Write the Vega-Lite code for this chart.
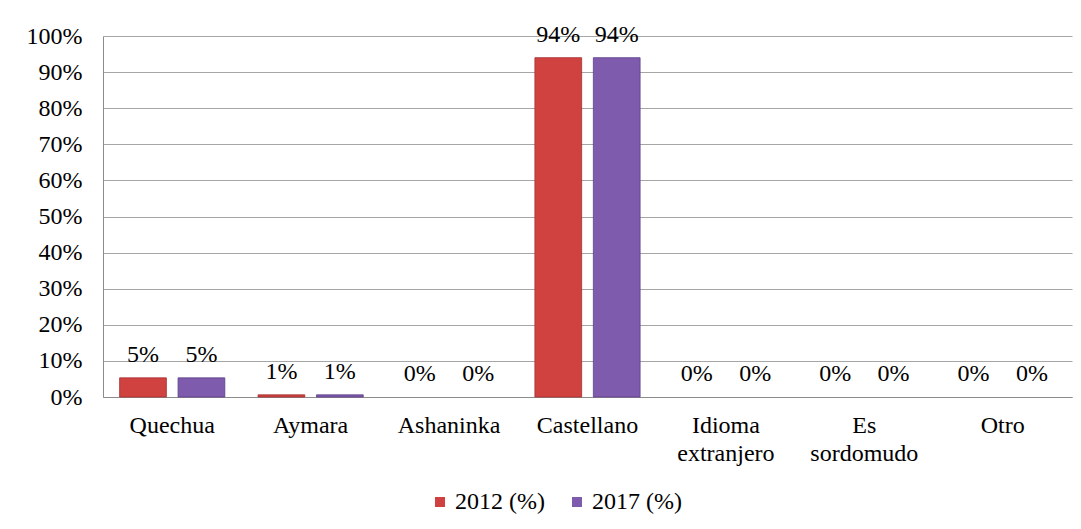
{
  "$schema": "https://vega.github.io/schema/vega-lite/v6.json",
  "autosize": "none",
  "width": 969,
  "height": 361,
  "padding": {"left": 103, "top": 36, "right": 9, "bottom": 132},
  "background": "white",
  "config": {
    "font": "Liberation Serif",
    "view": {"stroke": null},
    "axis": {"labelFont": "Liberation Serif", "labelFontSize": 24, "labelColor": "black", "ticks": false, "domainColor": "#8c8c8c", "gridColor": "#a6a6a6", "title": null}
  },
  "data": {
    "values": [
      {"idioma": "Quechua", "serie": "2012 (%)", "valor": 0.053},
      {"idioma": "Quechua", "serie": "2017 (%)", "valor": 0.053},
      {"idioma": "Aymara", "serie": "2012 (%)", "valor": 0.006},
      {"idioma": "Aymara", "serie": "2017 (%)", "valor": 0.006},
      {"idioma": "Ashaninka", "serie": "2012 (%)", "valor": 0.0},
      {"idioma": "Ashaninka", "serie": "2017 (%)", "valor": 0.0},
      {"idioma": "Castellano", "serie": "2012 (%)", "valor": 0.94},
      {"idioma": "Castellano", "serie": "2017 (%)", "valor": 0.94},
      {"idioma": "Idioma extranjero", "serie": "2012 (%)", "valor": 0.0},
      {"idioma": "Idioma extranjero", "serie": "2017 (%)", "valor": 0.0},
      {"idioma": "Es sordomudo", "serie": "2012 (%)", "valor": 0.0},
      {"idioma": "Es sordomudo", "serie": "2017 (%)", "valor": 0.0},
      {"idioma": "Otro", "serie": "2012 (%)", "valor": 0.0},
      {"idioma": "Otro", "serie": "2017 (%)", "valor": 0.0}
    ]
  },
  "encoding": {
    "x": {
      "field": "idioma", "type": "nominal", "sort": null,
      "scale": {"paddingInner": 0.24, "paddingOuter": 0.12},
      "axis": {"labelAngle": 0, "labelPadding": 16, "labelLineHeight": 28, "labelBaseline": "top", "labelExpr": "split(datum.label, ' ')", "grid": false, "domain": true}
    },
    "xOffset": {"field": "serie", "type": "nominal", "scale": {"paddingInner": 0.2}},
    "y": {
      "field": "valor", "type": "quantitative",
      "scale": {"domain": [0, 1]},
      "axis": {"values": [0, 0.1, 0.2, 0.3, 0.4, 0.5, 0.6, 0.7, 0.8, 0.9, 1], "format": ".0%", "labelPadding": 21, "grid": true, "domain": true}
    }
  },
  "layer": [
    {
      "mark": {"type": "bar", "strokeWidth": 1},
      "encoding": {
        "color": {
          "field": "serie", "type": "nominal",
          "scale": {"domain": ["2012 (%)", "2017 (%)"], "range": ["#d04240", "#7f5bae"]},
          "legend": {"orient": "none", "legendX": 325, "legendY": 454, "direction": "horizontal", "title": null, "symbolType": "square", "symbolSize": 100, "symbolStrokeWidth": 0, "labelFont": "Liberation Serif", "labelFontSize": 24, "labelColor": "black", "labelOffset": 3, "columnPadding": 20}
        },
        "stroke": {
          "field": "serie", "type": "nominal",
          "scale": {"domain": ["2012 (%)", "2017 (%)"], "range": ["#a52f2f", "#5d4088"]},
          "legend": null
        },
        "strokeOpacity": {"condition": {"test": "datum.valor == 0", "value": 0}, "value": 0.8}
      }
    },
    {
      "mark": {"type": "text", "baseline": "alphabetic", "dy": -16, "fontSize": 24, "font": "Liberation Serif", "color": "black"},
      "encoding": {
        "text": {"field": "valor", "type": "quantitative", "format": ".0%"}
      }
    }
  ]
}
